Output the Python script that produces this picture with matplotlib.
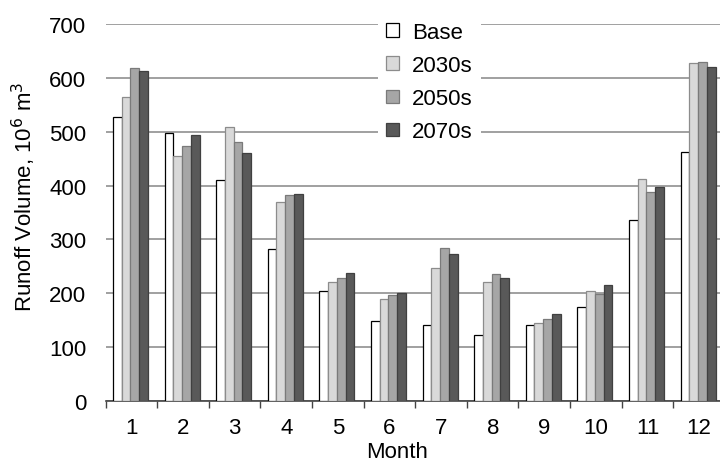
import numpy as np
import matplotlib
matplotlib.use('Agg')
import matplotlib.pyplot as plt
from matplotlib.ticker import FixedLocator

plt.rcParams['font.family'] = ['Liberation Sans', 'DejaVu Sans']

# 数据
months = ['1', '2', '3', '4', '5', '6', '7', '8', '9', '10', '11', '12']
series = ['Base', '2030s', '2050s', '2070s']
base = [528, 498, 411, 283, 204, 148, 140, 123, 140, 175, 337, 463]
y2030 = [565, 456, 509, 369, 220, 189, 247, 220, 145, 204, 413, 628]
y2050 = [618, 474, 481, 382, 229, 197, 284, 236, 152, 199, 388, 630]
y2070 = [613, 494, 460, 385, 238, 200, 273, 228, 161, 215, 398, 620]

colors = ['#ffffff', '#d9d9d9', '#a6a6a6', '#595959']
edges = ['#000000', '#8c8c8c', '#7a7a7a', '#404040']

fig = plt.figure(figsize=(7.2, 4.64), dpi=100)
ax = fig.add_axes([0.1468, 0.1343, 0.86, 0.811])

x = np.arange(1, len(months) + 1)
w = 0.17
for i, vals in enumerate([base, y2030, y2050, y2070]):
    ax.bar(x + (i - 1.5) * w - 0.02, vals, width=w, color=colors[i],
           edgecolor=edges[i], linewidth=0.9, label=series[i], zorder=3)

ax.set_xlim(0.5, 12.5)
ax.set_ylim(0, 700)
ax.set_yticks(range(0, 701, 100))
ax.yaxis.grid(True, color='#999999', linewidth=1.3, zorder=0)
ax.set_xticks(x)
ax.set_xticklabels(months)
ax.xaxis.set_minor_locator(FixedLocator(np.arange(0.5, 13, 1)))
ax.tick_params(axis='x', which='major', length=0, labelsize=16, pad=12)
ax.tick_params(axis='x', which='minor', length=5, width=1, color='#444444')
ax.tick_params(axis='y', length=0, labelsize=16, pad=14)

for s in ['top', 'right', 'left']:
    ax.spines[s].set_visible(False)
ax.spines['bottom'].set_color('#444444')
ax.spines['bottom'].set_linewidth(1.2)

ax.set_ylabel('Runoff Volume, 10$^6$ m$^3$', fontsize=16)
ax.yaxis.set_label_coords(-0.132, 0.544)
ax.set_xlabel('Month', fontsize=16)
ax.xaxis.set_label_coords(0.47, -0.136)
ax.xaxis.label.set_va('center')
ax.yaxis.label.set_va('center')

leg = ax.legend(loc='center', bbox_to_anchor=(0.5965, 0.821),
                bbox_transform=fig.transFigure, fontsize=16,
                handlelength=0.55, handleheight=0.55, labelspacing=0.55,
                handletextpad=0.6, borderpad=0.4, frameon=True,
                fancybox=False, framealpha=1)
leg.get_frame().set_edgecolor('none')
leg.get_frame().set_facecolor('white')

plt.savefig('out.png', dpi=100)
